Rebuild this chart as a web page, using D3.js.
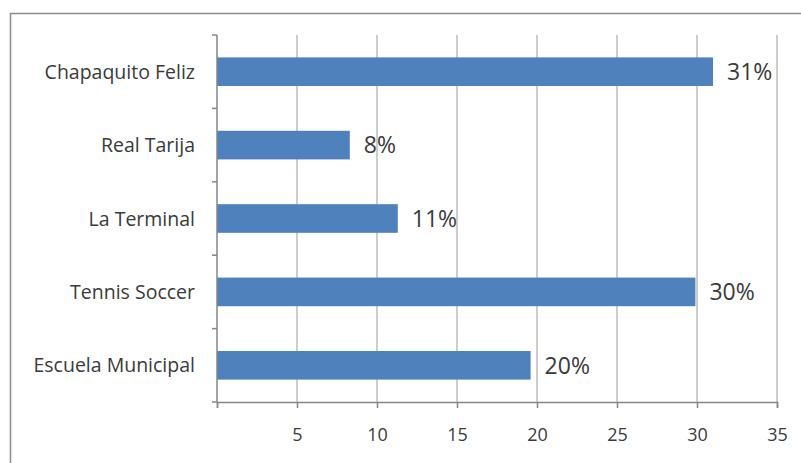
<!DOCTYPE html>
<html>
<head>
<meta charset="utf-8">
<script src="https://cdn.jsdelivr.net/npm/d3@7"></script>
<style>
  html, body { margin: 0; padding: 0; background: #fff; }
  svg { display: block; }
</style>
</head>
<body>
<svg id="chart" width="801" height="463"></svg>
<script>
const categories = ["Chapaquito Feliz", "Real Tarija", "La Terminal", "Tennis Soccer", "Escuela Municipal"];
const values = [31, 8.3, 11.3, 29.9, 19.6];
const valueLabels = ["31%", "8%", "11%", "30%", "20%"];
const xTicks = [5, 10, 15, 20, 25, 30, 35];

const svg = d3.select("#chart");
const W = 801, H = 463;
const margin = { left: 217, right: 24, top: 35, bottom: 61 };
const fontFam = "'Open Sans', 'DejaVu Sans', sans-serif";

// border
svg.append("rect")
  .attr("x", 10.5).attr("y", 13.5)
  .attr("width", 820).attr("height", 500)
  .attr("fill", "#fff").attr("stroke", "#8c8c8c").attr("stroke-width", 1.5);

const x = d3.scaleLinear().domain([0, 35]).range([margin.left, W - margin.right]);
const y = d3.scaleBand().domain(categories).range([margin.top, H - margin.bottom]).paddingInner(0.61).paddingOuter(0.305);
const yEdge = d3.scaleBand().domain(categories).range([margin.top, H - margin.bottom]).padding(0);

// gridlines
svg.append("g").selectAll("line").data(xTicks).join("line")
  .attr("x1", d => x(d)).attr("x2", d => x(d))
  .attr("y1", margin.top).attr("y2", H - margin.bottom)
  .attr("stroke", "#bdbdbd").attr("stroke-width", 1.5);

// bars
svg.append("g").selectAll("rect").data(categories).join("rect")
  .attr("x", x(0))
  .attr("y", d => y(d))
  .attr("width", (d, i) => x(values[i]) - x(0))
  .attr("height", y.bandwidth())
  .attr("fill", "#4f81bd");

// value labels
svg.append("g").selectAll("text").data(categories).join("text")
  .attr("x", (d, i) => x(values[i]) + 14)
  .attr("y", d => y(d) + y.bandwidth() / 2)
  .attr("dy", "0.36em")
  .attr("font-family", fontFam)
  .attr("font-size", 23)
  .attr("fill", "#3a3a3a")
  .text((d, i) => valueLabels[i]);

// x axis
const xAxis = d3.axisBottom(x).tickValues([0].concat(xTicks)).tickSize(6).tickPadding(20)
  .tickFormat(d => d === 0 ? "" : d);
const gx = svg.append("g").attr("transform", `translate(0,${H - margin.bottom})`).call(xAxis);
gx.select(".domain").attr("stroke", "#868686").attr("stroke-width", 1.5);
gx.selectAll(".tick line").attr("stroke", "#868686").attr("stroke-width", 1.5);
gx.selectAll(".tick text").attr("font-family", fontFam).attr("font-size", 18).attr("fill", "#3a3a3a");

// y axis
const gy = svg.append("g").attr("transform", `translate(${margin.left},0)`);
gy.append("line").attr("x1", 0).attr("x2", 0).attr("y1", margin.top).attr("y2", H - margin.bottom)
  .attr("stroke", "#868686").attr("stroke-width", 1.5);
const edges = categories.map(c => yEdge(c)).concat([H - margin.bottom]);
gy.selectAll("line.tk").data(edges).join("line").attr("class", "tk")
  .attr("x1", -5).attr("x2", 0).attr("y1", d => d).attr("y2", d => d)
  .attr("stroke", "#868686").attr("stroke-width", 1.5);
gy.selectAll("text").data(categories).join("text")
  .attr("x", -22)
  .attr("y", d => y(d) + y.bandwidth() / 2)
  .attr("dy", "0.36em")
  .attr("text-anchor", "end")
  .attr("font-family", fontFam)
  .attr("font-size", 19.5)
  .attr("fill", "#3a3a3a")
  .text(d => d);
</script>
</body>
</html>
